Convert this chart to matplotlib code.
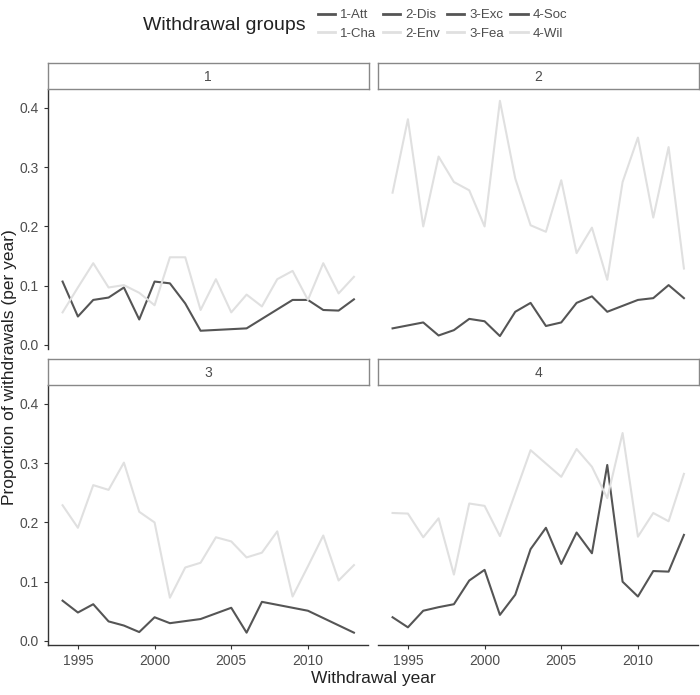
import numpy as np
import matplotlib
matplotlib.use("Agg")
import matplotlib.pyplot as plt
from matplotlib.lines import Line2D

plt.rcParams["font.family"] = ["Liberation Sans", "DejaVu Sans"]

# =========================
# Data
# =========================
panels = ["1", "2", "3", "4"]
dark_names = ["1-Att", "2-Dis", "3-Exc", "4-Soc"]
light_names = ["1-Cha", "2-Env", "3-Fea", "4-Wil"]

years_all = list(range(1994, 2014))

# panel 1
p1_dark_years = [1994, 1995, 1996, 1997, 1998, 1999, 2000, 2001, 2002, 2003,
                 2006, 2009, 2010, 2011, 2012, 2013]
p1_dark = [0.107, 0.048, 0.076, 0.080, 0.097, 0.043, 0.107, 0.104, 0.070, 0.024,
           0.028, 0.076, 0.076, 0.059, 0.058, 0.077]
p1_light_years = years_all
p1_light = [0.055, 0.097, 0.138, 0.097, 0.101, 0.088, 0.067, 0.148, 0.148, 0.059,
            0.111, 0.055, 0.085, 0.065, 0.111, 0.125, 0.076, 0.138, 0.087, 0.115]

# panel 2
p2_dark_years = [1994, 1996, 1997, 1998, 1999, 2000, 2001, 2002, 2003, 2004,
                 2005, 2006, 2007, 2008, 2010, 2011, 2012, 2013]
p2_dark = [0.028, 0.038, 0.016, 0.025, 0.044, 0.040, 0.015, 0.056, 0.071, 0.032,
           0.038, 0.071, 0.082, 0.056, 0.076, 0.079, 0.101, 0.079]
p2_light_years = years_all
p2_light = [0.257, 0.381, 0.200, 0.318, 0.275, 0.261, 0.200, 0.412, 0.281, 0.202,
            0.191, 0.278, 0.155, 0.198, 0.110, 0.275, 0.350, 0.215, 0.334, 0.129]

# panel 3
p3_dark_years = [1994, 1995, 1996, 1997, 1998, 1999, 2000, 2001, 2003, 2005,
                 2006, 2007, 2010, 2013]
p3_dark = [0.068, 0.048, 0.062, 0.033, 0.026, 0.015, 0.040, 0.030, 0.037, 0.056,
           0.014, 0.066, 0.051, 0.014]
p3_light_years = years_all
p3_light = [0.229, 0.191, 0.263, 0.255, 0.301, 0.218, 0.200, 0.073, 0.124, 0.132,
            0.175, 0.168, 0.141, 0.149, 0.185, 0.075, 0.126, 0.178, 0.102, 0.128]

# panel 4
p4_dark_years = years_all
p4_dark = [0.040, 0.023, 0.051, 0.057, 0.062, 0.102, 0.120, 0.044, 0.078, 0.155,
           0.191, 0.130, 0.183, 0.148, 0.297, 0.100, 0.075, 0.118, 0.117, 0.179]
p4_light_years = [1994, 1995, 1996, 1997, 1998, 1999, 2000, 2001, 2003,
                  2005, 2006, 2007, 2008, 2009, 2010, 2011, 2012, 2013]
p4_light = [0.216, 0.215, 0.175, 0.207, 0.112, 0.232, 0.228, 0.177, 0.322,
            0.277, 0.324, 0.294, 0.241, 0.351, 0.176, 0.216, 0.202, 0.282]

dark_series = [(p1_dark_years, p1_dark), (p2_dark_years, p2_dark),
               (p3_dark_years, p3_dark), (p4_dark_years, p4_dark)]
light_series = [(p1_light_years, p1_light), (p2_light_years, p2_light),
                (p3_light_years, p3_light), (p4_light_years, p4_light)]

x_ticks = [1995, 2000, 2005, 2010]
y_ticks = [0.0, 0.1, 0.2, 0.3, 0.4]

# =========================
# Styling
# =========================
DARK = "#555555"
LIGHT = "#e0e0e0"
AXIS = "#333333"
TEXT = "#4d4d4d"
W, H = 700, 695

fig = plt.figure(figsize=(W / 100, H / 100), dpi=100)


def frac(l, t, r, b):
    return [l / W, 1 - b / H, (r - l) / W, (b - t) / H]


lefts = [48, 378]
rights = [368.5, 698.5]
tops = [89, 385]
bottoms = [349.4, 645.4]
strip_h = 26

for i, name in enumerate(panels):
    row, col = divmod(i, 2)
    ax = fig.add_axes(frac(lefts[col], tops[row], rights[col], bottoms[row]))
    ax.plot(*dark_series[i], color=DARK, lw=1.5, solid_joinstyle="round")
    ax.plot(*light_series[i], color=LIGHT, lw=1.5, solid_joinstyle="round")
    ax.set_xlim(1993.05, 2013.95)
    ax.set_ylim(-0.0075, 0.432)
    for s in ["top", "right"]:
        ax.spines[s].set_visible(False)
    ax.spines["left"].set_visible(col == 0)
    ax.spines["bottom"].set_visible(row == 1)
    for s in ["left", "bottom"]:
        ax.spines[s].set_color(AXIS)
        ax.spines[s].set_linewidth(1.0)
    ax.set_xticks(x_ticks)
    ax.set_yticks(y_ticks)
    ax.set_yticklabels([f"{v:.1f}" for v in y_ticks])
    ax.tick_params(colors=AXIS, labelcolor=TEXT, labelsize=10, length=3, width=0.8)
    if row == 0:
        ax.tick_params(axis="x", bottom=False, labelbottom=False)
    if col == 1:
        ax.tick_params(axis="y", left=False, labelleft=False)

    # facet strip
    sax = fig.add_axes(frac(lefts[col], tops[row] - strip_h, rights[col], tops[row]))
    sax.set_xticks([])
    sax.set_yticks([])
    for s in sax.spines.values():
        s.set_color("#888888")
        s.set_linewidth(1.0)
    sax.text(0.5, 0.45, name, ha="center", va="center", fontsize=10, color=TEXT,
             transform=sax.transAxes)

fig.text(373 / W, 1 - 678 / H, "Withdrawal year", ha="center", va="center",
         fontsize=12.5, color="#222222")
fig.text(10 / W, 1 - 367 / H, "Proportion of withdrawals (per year)", ha="center",
         va="center", rotation=90, fontsize=12.5, color="#222222")

# legend
fig.text(224 / W, 1 - 25 / H, "Withdrawal groups", ha="center", va="center",
         fontsize=14, color="#222222")
handles = []
labels = []
for d, l in zip(dark_names, light_names):
    handles.append(Line2D([], [], color=DARK, lw=2))
    labels.append(d)
    handles.append(Line2D([], [], color=LIGHT, lw=2))
    labels.append(l)
fig.legend(handles, labels, ncol=4, loc="center left",
           bbox_to_anchor=(306 / W, 1 - 24.5 / H), frameon=False, fontsize=9.5,
           handlelength=1.3, handletextpad=0.4, columnspacing=0.5,
           labelspacing=0.5, labelcolor=TEXT)

fig.savefig("out.png", dpi=100)
